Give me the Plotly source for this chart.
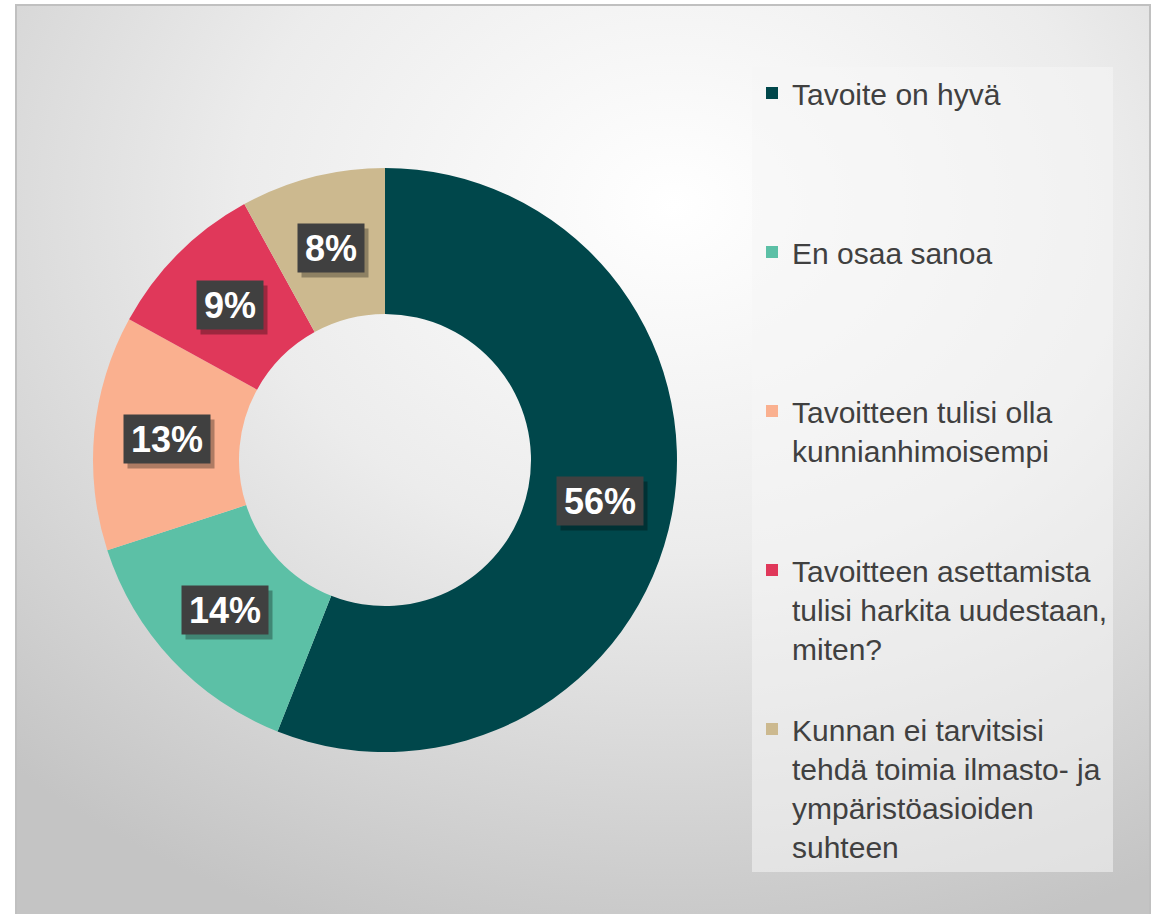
import base64
import math
import plotly.graph_objects as go

# vastausvaihtoehdot ja osuudet (%)
categories = [
    "Tavoite on hyvä",
    "En osaa sanoa",
    "Tavoitteen tulisi olla<br>kunnianhimoisempi",
    "Tavoitteen asettamista<br>tulisi harkita uudestaan,<br>miten?",
    "Kunnan ei tarvitsisi<br>tehdä toimia ilmasto- ja<br>ympäristöasioiden<br>suhteen",
]
shares = [56, 14, 13, 9, 8]
slice_colors = ["#00474B", "#5CC0A6", "#FAB08F", "#E0385A", "#CCB98F"]

W, H = 1162, 914
FONT = "Arial, 'Liberation Sans', sans-serif"

# pad legend entries to the same height (4 lines) so they spread out like the original
legend_labels = []
for c in categories:
    n = c.count("<br>") + 1
    legend_labels.append(c + "<br> " * (4 - n))

# radial gradient background for the chart area
svg = (
    f'<svg xmlns="http://www.w3.org/2000/svg" width="{W}" height="{H}">'
    '<defs><radialGradient id="g" cx="58%" cy="22%" r="85%">'
    '<stop offset="0" stop-color="#ffffff"/>'
    '<stop offset="0.45" stop-color="#ececec"/>'
    '<stop offset="1" stop-color="#c4c4c4"/>'
    '</radialGradient></defs>'
    f'<rect width="{W}" height="{H}" fill="url(#g)"/></svg>'
)
bg_src = "data:image/svg+xml;base64," + base64.b64encode(svg.encode()).decode()

dom_x = [93 / W, 677 / W]
dom_y = [(H - 752) / H, (H - 168) / H]
hole = 0.5

fig = go.Figure()
fig.add_trace(go.Pie(
    labels=legend_labels,
    values=shares,
    hole=hole,
    sort=False,
    direction="clockwise",
    rotation=0,
    marker=dict(colors=slice_colors, line=dict(width=0)),
    textinfo="none",
    hoverinfo="label+percent",
    domain=dict(x=dom_x, y=dom_y),
))

# percent boxes at the middle of each ring segment
cx = sum(dom_x) / 2
cy = sum(dom_y) / 2
rx = (dom_x[1] - dom_x[0]) / 2 * (1 + hole) / 2
ry = (dom_y[1] - dom_y[0]) / 2 * (1 + hole) / 2
total = sum(shares)
start = 0
annotations = []
for v in shares:
    mid = (start + v / 2) / total * 2 * math.pi
    start += v
    x = cx + rx * math.sin(mid)
    y = cy + ry * math.cos(mid)
    label = f"{round(v / total * 100)}%"
    box_w = 20 * (len(label) - 1) + 32 + 6
    common = dict(x=x, y=y, xref="paper", yref="paper", showarrow=False,
                  xanchor="center", yanchor="middle",
                  width=box_w, height=40, borderpad=4)
    # shadow box
    annotations.append(dict(common, text=" ", xshift=4, yshift=-5,
                            bgcolor="rgba(0,0,0,0.3)"))
    annotations.append(dict(common, text=f"<b>{label}</b>", bgcolor="#404040",
                            font=dict(family=FONT, size=36, color="white")))

fig.update_layout(
    width=W,
    height=H,
    margin=dict(l=0, r=0, t=0, b=0),
    paper_bgcolor="white",
    plot_bgcolor="rgba(0,0,0,0)",
    font=dict(family=FONT, color="#404040"),
    images=[dict(source=bg_src, xref="paper", yref="paper",
                 x=16 / W, y=1 - 5 / H, sizex=(1150 - 16) / W, sizey=(H - 5) / H,
                 xanchor="left", yanchor="top", sizing="stretch", layer="below")],
    shapes=[dict(type="rect", xref="paper", yref="paper",
                 x0=16 / W, x1=1150 / W, y0=-0.01, y1=1 - 5 / H,
                 line=dict(color="#c0c0c0", width=2))],
    annotations=annotations,
    showlegend=True,
    legend=dict(
        x=752 / W, y=1 - 67 / H, xanchor="left", yanchor="top",
        bgcolor="rgba(245,245,245,0.55)",
        font=dict(family=FONT, size=30, color="#404040"),
        valign="top",
        traceorder="normal",
    ),
)

fig.write_html("out.html", config={"displayModeBar": False},
               post_script="document.body.style.margin='0';")
